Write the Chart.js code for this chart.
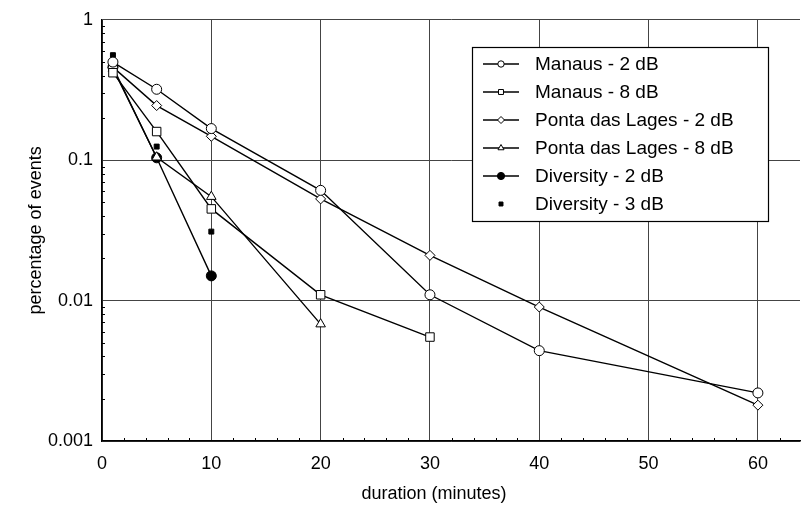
<!DOCTYPE html>
<html>
<head>
<meta charset="utf-8">
<script src="https://cdn.jsdelivr.net/npm/chart.js@4.4.1/dist/chart.umd.min.js"></script>
<style>
html,body{margin:0;padding:0;background:#fff;overflow:hidden;}
canvas{display:block;}
</style>
</head>
<body>
<canvas id="c" width="807" height="509"></canvas>
<script>
// ---- data ----
const durations = [1, 5, 10, 20, 30, 40, 60];
const manaus2dB = [0.50, 0.32, 0.168, 0.061, 0.011, 0.0044, 0.0022];
const manaus8dB = [0.42, 0.16, 0.045, 0.011, 0.0055];
const ponta2dB = [0.46, 0.245, 0.148, 0.053, 0.021, 0.009, 0.0018];
const ponta8dB = [0.45, 0.105, 0.055, 0.0068];
const diversity2dB = [0.46, 0.104, 0.015];
const diversity3dB = [0.56, 0.125, 0.031];
const seriesNames = ['Manaus - 2 dB', 'Manaus - 8 dB', 'Ponta das Lages - 2 dB',
  'Ponta das Lages - 8 dB', 'Diversity - 2 dB', 'Diversity - 3 dB'];
const xTicks = [0, 10, 20, 30, 40, 50, 60];
const yTickLabels = ['0.001', '0.01', '0.1', '1'];
const xTitle = 'duration (minutes)';
const yTitle = 'percentage of events';

const FONT = "'Liberation Sans', Arial, Helvetica, sans-serif";
const pts = arr => arr.map((v, i) => ({x: durations[i], y: v}));

function ds(label, data, legendRadius, pointStyle, radius, filled, showLine) {
  return {
    label, data: pts(data),
    borderColor: '#000', borderWidth: 1.4,
    pointStyle, pointRadius: radius, pointHoverRadius: radius,
    pointBackgroundColor: filled ? '#000' : '#fff',
    pointBorderColor: '#000', pointBorderWidth: 1,
    showLine: showLine, tension: 0, fill: false,
    legendRadius
  };
}

const datasets = [
  ds(seriesNames[0], manaus2dB, 3.2, 'circle', 5, false, true),
  ds(seriesNames[1], manaus8dB, 3.5, 'rect', 6, false, true),
  ds(seriesNames[2], ponta2dB, 3.5, 'rectRot', 5, false, true),
  ds(seriesNames[3], ponta8dB, 3.5, 'triangle', 5.5, false, true),
  ds(seriesNames[4], diversity2dB, 3.6, 'circle', 5, true, true),
  ds(seriesNames[5], diversity3dB, 2.8, 'rect', 3.5, true, false)
];

const isPow10 = v => { const l = Math.log10(v); return Math.abs(l - Math.round(l)) < 1e-6; };

// minor inward ticks + x title + legend
const extras = {
  id: 'extras',
  afterDatasetsDraw(chart) {
    const ctx = chart.ctx, ca = chart.chartArea;
    const xs = chart.scales.x, ys = chart.scales.y;
    ctx.save();
    ctx.strokeStyle = '#000'; ctx.lineWidth = 1;
    // x minor ticks
    for (let v = 2; v <= 64; v += 2) {
      if (v % 10 === 0) continue;
      const px = Math.round(xs.getPixelForValue(v)) + 0.5;
      if (px > ca.right) break;
      ctx.beginPath(); ctx.moveTo(px, ca.bottom); ctx.lineTo(px, ca.bottom - 3); ctx.stroke();
    }
    // y minor ticks
    for (let d = -3; d < 0; d++) {
      for (let m = 2; m <= 9; m++) {
        const py = Math.round(ys.getPixelForValue(m * Math.pow(10, d))) + 0.5;
        ctx.beginPath(); ctx.moveTo(ca.left, py); ctx.lineTo(ca.left + 3, py); ctx.stroke();
      }
    }
    // x axis title
    ctx.fillStyle = '#000';
    ctx.font = '18px ' + FONT;
    ctx.textAlign = 'center'; ctx.textBaseline = 'middle';
    ctx.fillText(xTitle, 434, 494);

    // legend
    const bx = 472.5, by = 47.5, bw = 296, bh = 174;
    ctx.fillStyle = '#fff';
    ctx.fillRect(bx, by, bw, bh);
    ctx.strokeStyle = '#000'; ctx.lineWidth = 1.2;
    ctx.strokeRect(bx, by, bw, bh);
    ctx.font = '19px ' + FONT;
    ctx.textAlign = 'left';
    chart.data.datasets.forEach((d, i) => {
      const y = 64 + i * 28;
      if (d.showLine) {
        ctx.strokeStyle = '#000'; ctx.lineWidth = 1.4;
        ctx.beginPath(); ctx.moveTo(483, y); ctx.lineTo(519, y); ctx.stroke();
      }
      ctx.fillStyle = d.pointBackgroundColor; ctx.strokeStyle = '#000'; ctx.lineWidth = 1;
      Chart.helpers.drawPoint(ctx, {pointStyle: d.pointStyle, radius: d.legendRadius, rotation: 0, borderWidth: 1}, 501, y);
      ctx.fillStyle = '#000';
      ctx.fillText(d.label, 535, y + 1);
    });
    ctx.restore();
  }
};

new Chart(document.getElementById('c'), {
  type: 'line',
  data: { datasets },
  plugins: [extras],
  options: {
    responsive: false, animation: false,
    layout: { padding: { top: 17, right: 0, left: 0, bottom: 0 } },
    plugins: { legend: { display: false }, tooltip: { enabled: false } },
    elements: { line: { borderJoinStyle: 'miter' } },
    scales: {
      x: {
        type: 'linear', min: 0, max: 63.85,
        afterFit: s => { s.height = 68; },
        afterBuildTicks: s => { s.ticks = xTicks.map(v => ({value: v})); },
        ticks: { autoSkip: false, color: '#000', font: { size: 18, family: FONT }, padding: 12, maxRotation: 0 },
        grid: { color: '#444', lineWidth: 1, drawTicks: false },
        border: { color: '#000', width: 1.5 },
        title: { display: false }
      },
      y: {
        type: 'logarithmic', min: 0.001, max: 1,
        afterFit: s => { s.width = 102; },
        ticks: {
          autoSkip: false, color: '#000', font: { size: 18, family: FONT }, padding: 9,
          callback: v => isPow10(v) ? yTickLabels[Math.round(Math.log10(v)) + 3] : ''
        },
        grid: {
          drawTicks: false, lineWidth: 1,
          color: c => (c.tick && isPow10(c.tick.value)) ? '#444' : 'rgba(0,0,0,0)'
        },
        border: { color: '#000', width: 1.5 },
        title: { display: true, text: yTitle, color: '#000', font: { size: 18, family: FONT }, padding: { top: 25, bottom: 0 } }
      }
    }
  }
});
</script>
</body>
</html>
